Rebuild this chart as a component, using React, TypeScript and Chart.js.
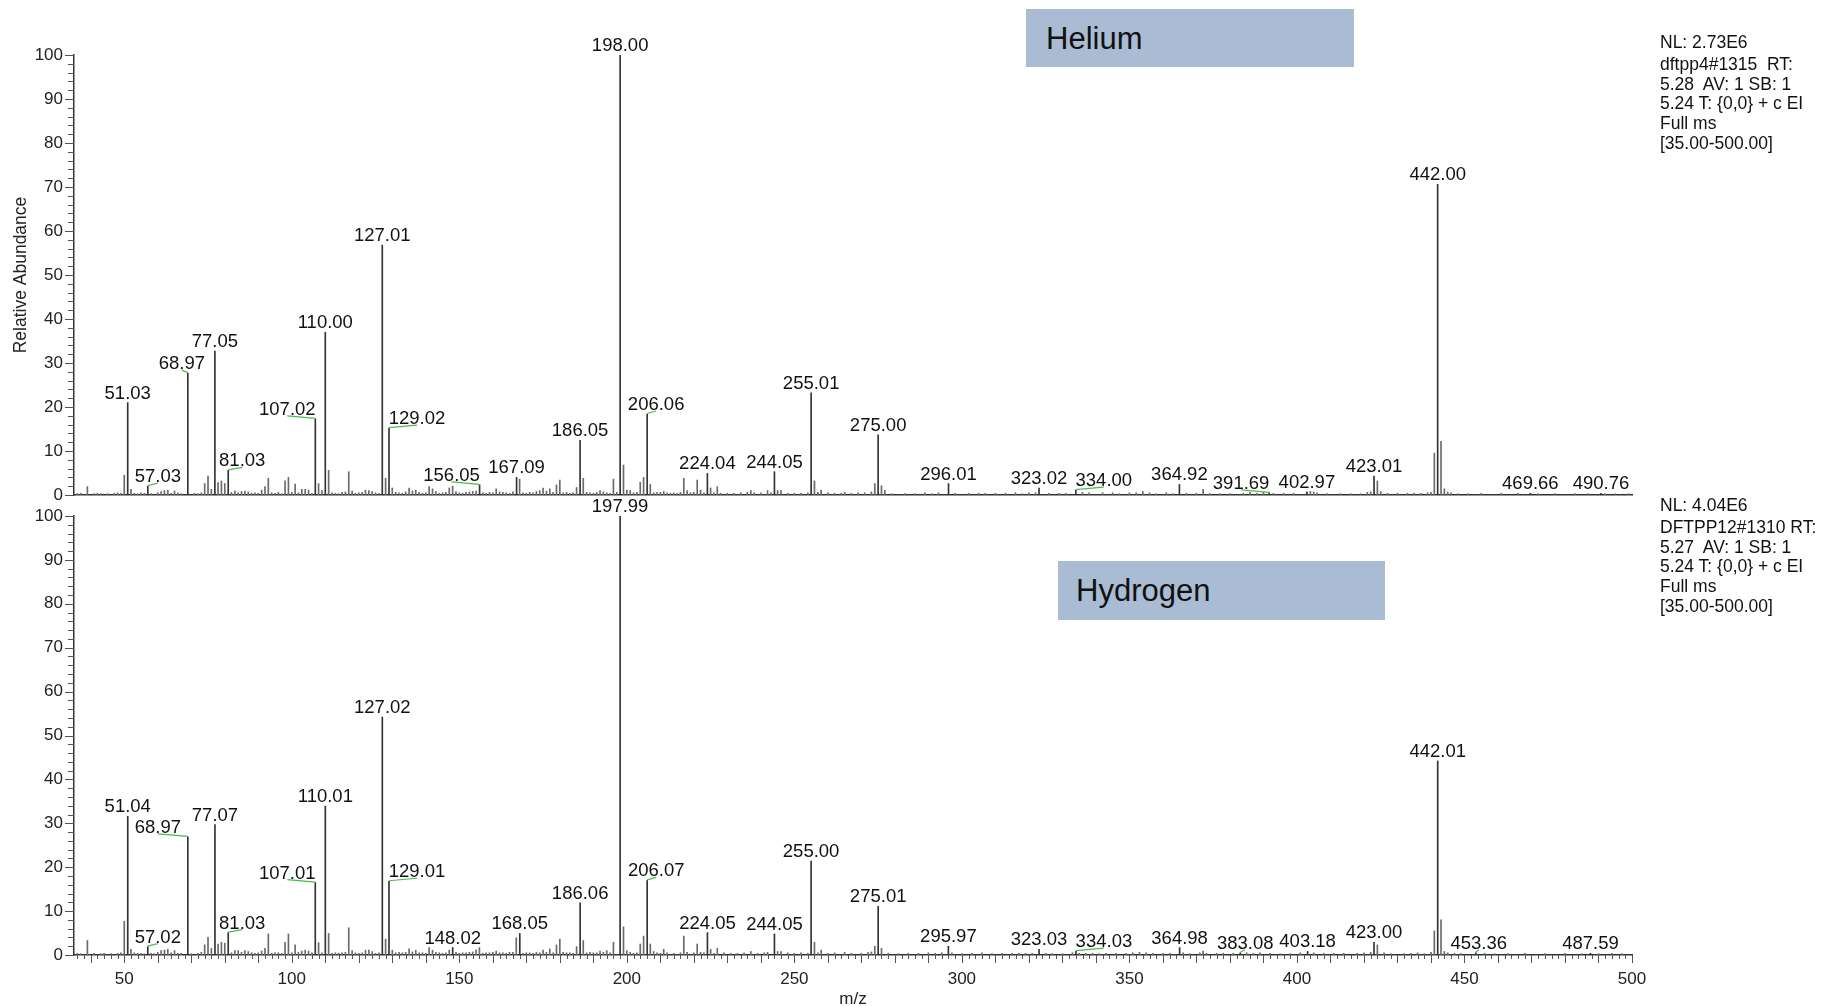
import React, { useEffect, useRef } from 'react';
import { Chart, registerables } from 'chart.js';

Chart.register(...registerables);

const FONT = '"Liberation Sans", Arial, Helvetica, sans-serif';

// ---------------- Helium spectrum (m/z, relative abundance) ----------------
const heliumPeaks: [number, number][] = [
  [39, 1.9], [50, 4.5], [51.03, 21.0], [52, 1.3], [57.03, 2.0],
  [61, 0.8], [62, 1.0], [63, 1.1], [65, 0.9], [68.97, 27.7],
  [74, 2.6], [75, 4.3], [76, 1.3], [77.05, 32.7], [78, 2.8], [79, 3.2], [80, 2.6], [81.03, 5.6],
  [83, 0.9], [85, 0.8], [86, 0.9], [87, 0.7], [91, 1.1], [92, 1.9], [93, 3.8],
  [98, 3.2], [99, 4.0], [101, 2.5], [103, 1.3], [104, 1.3], [105, 1.1],
  [107.02, 17.3], [108, 2.6], [109, 1.0], [110.0, 37.0], [111, 5.6], [117, 5.3], [118, 0.9],
  [122, 1.1], [123, 1.0], [124, 0.8], [127.01, 56.8], [128, 3.8], [129.02, 15.2], [130, 1.6],
  [135, 1.6], [136, 0.9], [137, 1.1], [141, 1.9], [142, 1.4], [143, 0.8],
  [147, 1.6], [148, 2.0], [149, 0.8], [153, 0.7], [154, 0.8], [155, 0.9], [156.05, 2.3],
  [161, 1.4], [162, 0.7], [167.09, 4.0], [168, 3.6],
  [173, 0.8], [174, 1.0], [175, 1.6], [176, 0.9], [177, 1.4], [179, 2.3], [180, 3.4],
  [185, 1.7], [186.05, 12.4], [187, 3.8], [192, 1.0], [193, 0.7],
  [196, 3.6], [198.0, 100], [199, 6.8], [200, 1.1], [201, 1.0],
  [204, 2.9], [205, 4.0], [206.06, 18.4], [207, 2.4], [209, 0.6], [211, 0.8],
  [217, 3.8], [218, 1.0], [221, 3.4], [222, 1.1], [224.04, 4.9], [225, 1.6], [227, 1.9],
  [237, 1.0], [242, 1.0], [244.05, 5.3], [245, 1.0], [246, 1.0],
  [255.01, 23.2], [256, 3.2], [258, 1.1], [265, 0.6],
  [274, 2.6], [275.0, 13.7], [276, 2.1], [277, 1.0],
  [296.01, 2.6], [323.02, 1.6], [334.0, 1.1], [354, 0.8], [364.92, 2.4], [372, 1.3],
  [391.69, 0.5], [402.97, 0.7], [404, 0.8], [423.01, 4.3], [424, 3.2], [425, 0.8],
  [441, 9.5], [442.0, 70.6], [443, 12.2], [444, 1.4], [469.66, 0.4], [490.76, 0.4],
];

const heliumNoise: [number, number][] = [
  [36, .3], [37, .4], [41, .3], [42, .4], [43, .3], [45, .3], [47, .4], [48, .5], [49, .4], [53, .4],
  [54, .3], [55, .5], [56, .4], [58, .3], [60, .5], [64, .4], [66, .5], [67, .3], [71, .4], [72, .3],
  [73, .5], [82, .6], [84, .5], [88, .4], [89, .5], [90, .4], [94, .5], [95, .4], [96, .6], [97, .3],
  [100, .6], [102, .5], [106, .4], [112, .5], [113, .4], [114, .3], [115, .6], [116, .7], [119, .4], [120, .5],
  [121, .6], [125, .5], [126, .4], [131, .6], [132, .5], [133, .4], [134, .7], [138, .6], [139, .4], [140, .5],
  [144, .4], [145, .5], [146, .6], [150, .5], [151, .4], [152, .6], [157, .5], [158, .4], [159, .6], [160, .5],
  [163, .6], [164, .5], [165, .4], [166, .7], [169, .5], [170, .4], [171, .6], [172, .5], [178, .6], [181, .5],
  [182, .6], [183, .4], [184, .5], [188, .6], [189, .5], [190, .4], [191, .6], [194, .5], [195, .4], [197, .6],
  [202, .5], [203, .6], [208, .5], [210, .6], [212, .5], [213, .4], [214, .5], [215, .4], [216, .6], [219, .5],
  [220, .6], [223, .5], [226, .5], [228, .4], [230, .4], [232, .4], [234, .5], [236, .6], [238, .5], [240, .5],
  [243, .5], [248, .4], [250, .4], [252, .4], [254, .5], [257, .6], [260, .5], [262, .4], [264, .4], [267, .4],
  [269, .5], [271, .5], [273, .7], [279, .3], [283, .3], [286, .3], [289, .5], [291, .3], [293, .5], [298, .4],
  [302, .4], [305, .4], [307, .4], [310, .4], [313, .4], [316, .5], [318, .3], [320, .5], [322, .5], [326, .4],
  [329, .4], [331, .4], [336, .6], [338, .5], [342, .5], [345, .5], [347, .3], [350, .5], [352, .5], [356, .5],
  [358, .3], [361, .5], [363, .3], [367, .4], [370, .4], [374, .3], [377, .3], [380, .3], [384, .4], [386, .6],
  [388, .4], [390, .6], [393, .4], [396, .4], [399, .4], [405, .7], [406, .5], [409, .3], [413, .3], [416, .3],
  [419, .3], [421, .6], [422, .7], [427, .4], [430, .4], [433, .4], [435, .4], [437, .4], [439, .5], [440, .6],
  [445, .7], [446, .5], [448, .3], [451, .3], [455, .4], [461, .4], [466, .4], [472, .3], [477, .3], [483, .3],
  [487, .3], [492, .3], [495, .3], [499, .3],
];

const heliumLabels: number[] = [
  51.03, 57.03, 68.97, 77.05, 81.03, 107.02, 110.0, 127.01, 129.02, 156.05, 167.09, 186.05, 198.0, 206.06,
  224.04, 244.05, 255.01, 275.0, 296.01, 323.02, 334.0, 364.92, 391.69, 402.97, 423.01, 442.0, 469.66, 490.76,
];

// ---------------- Hydrogen spectrum ----------------
const hydrogenPeaks: [number, number][] = [
  [39, 3.3], [50, 7.7], [51.04, 31.6], [52, 1.3], [57.02, 1.9],
  [61, 1.0], [62, 1.1], [63, 1.3], [65, 1.0], [68.97, 26.9],
  [74, 2.3], [75, 4.0], [76, 1.5], [77.07, 29.7], [78, 2.5], [79, 2.9], [80, 2.7], [81.03, 5.1],
  [83, 1.0], [84, 1.0], [86, 1.0], [87, 0.8], [91, 0.9], [92, 1.5], [93, 4.8],
  [98, 2.9], [99, 4.8], [101, 2.3], [103, 0.9], [104, 1.1], [105, 0.9],
  [107.01, 16.5], [108, 2.8], [109, 0.5], [110.01, 33.9], [111, 4.9], [117, 6.2], [118, 1.0],
  [122, 1.1], [123, 1.1], [124, 0.8], [127.02, 54.2], [128, 3.6], [129.01, 16.8], [130, 1.1],
  [135, 1.4], [137, 1.1], [141, 1.7], [142, 1.1], [147, 1.1], [148.02, 1.7], [155, 1.2], [156, 1.7],
  [161, 0.9], [167, 3.9], [168.05, 4.9], [175, 1.1], [177, 1.4], [179, 2.3], [180, 3.6],
  [185, 1.9], [186.06, 11.9], [187, 3.3], [192, 0.9], [194, 1.0],
  [196, 2.9], [197.99, 100], [199, 6.4], [200, 1.0],
  [204, 2.5], [205, 4.3], [206.07, 17.0], [207, 2.5], [208, 0.8], [211, 1.3],
  [217, 4.3], [221, 2.5], [224.05, 5.1], [225, 1.3], [227, 1.5],
  [237, 0.8], [244.05, 4.8], [245, 0.8], [246, 0.8], [255.0, 21.4], [256, 2.9], [258, 1.1],
  [274, 2.0], [275.01, 11.1], [276, 1.5],
  [295.97, 2.0], [323.03, 1.3], [334.03, 0.9], [364.98, 1.7], [372, 0.9], [383.08, 0.5], [403.18, 0.8],
  [423.0, 2.9], [424, 2.3], [441, 5.5], [442.01, 44.2], [443, 8.0], [444, 0.8], [453.36, 0.5], [487.59, 0.4],
];

const hydrogenNoise: [number, number][] = [
  [36, .4], [37, .3], [41, .4], [43, .3], [44, .4], [46, .3], [48, .4], [49, .5], [53, .5], [54, .4],
  [55, .4], [56, .3], [58, .4], [59, .3], [60, .6], [64, .5], [66, .4], [67, .4], [70, .3], [72, .4],
  [73, .6], [82, .5], [85, .6], [88, .5], [89, .4], [90, .5], [94, .4], [95, .5], [96, .5], [97, .4],
  [100, .5], [102, .6], [106, .5], [112, .4], [113, .5], [114, .4], [115, .5], [116, .6], [119, .5], [120, .4],
  [121, .5], [125, .4], [126, .5], [131, .5], [132, .6], [133, .5], [134, .6], [136, .7], [138, .5], [139, .5],
  [140, .4], [143, .6], [144, .5], [145, .4], [146, .5], [149, .6], [150, .4], [151, .5], [152, .5], [153, .6],
  [154, .7], [157, .4], [158, .5], [159, .5], [160, .6], [162, .5], [163, .5], [164, .4], [165, .6], [166, .6],
  [169, .4], [170, .5], [171, .5], [172, .4], [173, .6], [174, .5], [176, .6], [178, .5], [181, .6], [182, .5],
  [183, .5], [184, .4], [188, .5], [189, .6], [190, .5], [191, .5], [193, .6], [195, .5], [201, .6], [202, .4],
  [203, .5], [209, .5], [210, .4], [212, .5], [214, .4], [216, .5], [218, .6], [220, .5], [222, .6], [223, .5],
  [226, .4], [229, .5], [231, .4], [233, .4], [235, .5], [239, .4], [241, .5], [242, .6], [248, .5], [250, .4],
  [252, .5], [254, .4], [257, .5], [260, .4], [262, .5], [265, .6], [267, .4], [270, .4], [272, .6], [273, .7],
  [278, .4], [281, .3], [284, .4], [287, .4], [290, .5], [292, .4], [294, .5], [297, .5], [300, .3], [303, .4],
  [306, .5], [309, .3], [312, .4], [315, .4], [317, .4], [319, .4], [321, .4], [325, .4], [327, .3], [330, .3],
  [333, .5], [335, .4], [337, .4], [339, .4], [341, .3], [343, .4], [346, .4], [349, .4], [351, .5], [353, .6],
  [355, .5], [357, .4], [360, .4], [362, .4], [366, .5], [368, .3], [371, .5], [373, .4], [376, .4], [378, .4],
  [381, .4], [385, .5], [387, .4], [389, .5], [392, .4], [395, .3], [398, .3], [401, .5], [405, .5], [408, .4],
  [411, .4], [414, .4], [418, .4], [420, .5], [422, .6], [426, .5], [428, .3], [432, .3], [434, .4], [436, .5],
  [438, .3], [440, .6], [445, .5], [447, .4], [449, .3], [456, .4], [459, .3], [463, .3], [468, .4], [474, .3],
  [480, .4], [485, .3], [490, .3], [494, .4], [497, .3],
];

const hydrogenLabels: number[] = [
  51.04, 57.02, 68.97, 77.07, 81.03, 107.01, 110.01, 127.02, 129.01, 148.02, 168.05, 186.06, 197.99, 206.07,
  224.05, 244.05, 255.0, 275.01, 295.97, 323.03, 334.03, 364.98, 383.08, 403.18, 423.0, 442.01, 453.36, 487.59,
];

// axis tick labels
const xTickLabels = [50, 100, 150, 200, 250, 300, 350, 400, 450, 500];
const yTickLabels = [0, 10, 20, 30, 40, 50, 60, 70, 80, 90, 100];

const heliumInfo = ['NL: 2.73E6', 'dftpp4#1315  RT:', '5.28  AV: 1 SB: 1', '5.24 T: {0,0} + c EI', 'Full ms', '[35.00-500.00]'];
const hydrogenInfo = ['NL: 4.04E6', 'DFTPP12#1310 RT:', '5.27  AV: 1 SB: 1', '5.24 T: {0,0} + c EI', 'Full ms', '[35.00-500.00]'];

// label placement styling (pixel shift of the label from its peak)
const heliumLabelShift: Record<string, number> = {
  '57.03': 10, '68.97': -6, '81.03': 14, '107.02': -28, '129.02': 28, '156.05': -28, '206.06': 9, '334.00': 28, '391.69': -28,
};
const hydrogenLabelShift: Record<string, number> = {
  '57.02': 10, '68.97': -30, '81.03': 14, '107.01': -28, '129.01': 28, '206.07': 9, '334.03': 28, '383.08': 5, '453.36': 3,
};

type Panel = {
  peaks: [number, number][];
  noise: [number, number][];
  labels: number[];
  shift: Record<string, number>;
  bottomAxis: boolean;
  yTitle: boolean;
  padTop: number;
  padBottom: number;
  xAxisHeight: number;
};

function buildChart(canvas: HTMLCanvasElement, p: Panel) {
  const labelKeys = new Set(p.labels.map((v) => v.toFixed(2)));
  const major: { x: number; y: number }[] = [];
  const minor: { x: number; y: number }[] = [];
  p.peaks.forEach(([m, a]) => {
    (labelKeys.has(m.toFixed(2)) ? major : minor).push({ x: m, y: a });
  });
  p.noise.forEach(([m, a]) => minor.push({ x: m, y: a }));
  minor.sort((a, b) => a.x - b.x);

  const tickPlugin = {
    id: 'msTicks',
    afterDraw(chart: any) {
      const ctx = chart.ctx;
      const { left, bottom } = chart.chartArea;
      const ys = chart.scales.y;
      const xs = chart.scales.x;
      ctx.save();
      ctx.strokeStyle = '#555';
      ctx.lineWidth = 1;
      ctx.beginPath();
      for (let v = 0; v <= 100; v += 2) {
        const y = Math.round(ys.getPixelForValue(v)) + 0.5;
        const len = v % 10 === 0 ? 9 : 6;
        ctx.moveTo(left - len, y);
        ctx.lineTo(left, y);
      }
      if (p.bottomAxis) {
        for (let v = 36; v <= 500; v += 2) {
          const x = Math.round(xs.getPixelForValue(v)) + 0.5;
          const len = v % 10 === 0 ? 8 : 4;
          ctx.moveTo(x, bottom);
          ctx.lineTo(x, bottom + len);
        }
      }
      ctx.stroke();
      ctx.restore();
    },
    afterDatasetsDraw(chart: any) {
      const ctx = chart.ctx;
      const ys = chart.scales.y;
      const xs = chart.scales.x;
      ctx.save();
      ctx.font = `18.5px ${FONT}`;
      ctx.textAlign = 'center';
      ctx.textBaseline = 'alphabetic';
      p.labels.forEach((m) => {
        const pk = p.peaks.find(([mz]) => Math.abs(mz - m) < 1e-6);
        if (!pk) return;
        const x = xs.getPixelForValue(m);
        const y = ys.getPixelForValue(pk[1]);
        const key = m.toFixed(2);
        const sh = p.shift[key] || 0;
        const lx = x + sh;
        if (sh) {
          ctx.strokeStyle = '#4cbb4c';
          ctx.lineWidth = 1.2;
          ctx.beginPath();
          ctx.moveTo(x, y - 0.5);
          ctx.lineTo(lx, y - 3);
          ctx.stroke();
        }
        ctx.fillStyle = '#111';
        ctx.fillText(key, lx, y - 4);
      });
      ctx.restore();
    },
  };

  return new Chart(canvas, {
    type: 'bar',
    data: {
      datasets: [
        { data: minor, backgroundColor: '#6a6a6a', barThickness: 1, grouped: false, borderWidth: 0 } as any,
        { data: major, backgroundColor: '#333333', barThickness: 1, grouped: false, borderWidth: 0 } as any,
      ],
    },
    options: {
      animation: false,
      responsive: false,
      maintainAspectRatio: false,
      devicePixelRatio: 1,
      layout: { autoPadding: false, padding: { left: 0, right: 194, top: p.padTop, bottom: p.padBottom } },
      plugins: { legend: { display: false }, tooltip: { enabled: false }, title: { display: false } },
      scales: {
        x: {
          type: 'linear',
          min: 35,
          max: 500,
          offset: false,
          grid: { display: false, drawTicks: false },
          border: { display: true, color: '#333', width: 1.5 },
          ticks: {
            display: p.bottomAxis,
            font: { family: FONT, size: 17 },
            color: '#222',
            padding: 14,
            maxRotation: 0,
            autoSkip: false,
          },
          afterBuildTicks: (s: any) => {
            s.ticks = xTickLabels.map((v) => ({ value: v }));
          },
          title: {
            display: p.bottomAxis,
            text: 'm/z',
            font: { family: FONT, size: 17 },
            color: '#222',
            padding: { top: 0, bottom: 0 },
          },
          afterFit: (s: any) => {
            s.height = p.xAxisHeight;
          },
        },
        y: {
          min: 0,
          max: 100,
          grid: { display: false, drawTicks: false },
          border: { display: true, color: '#333', width: 1.5 },
          ticks: { font: { family: FONT, size: 17 }, color: '#222', padding: 11, autoSkip: false },
          afterBuildTicks: (s: any) => {
            s.ticks = yTickLabels.map((v) => ({ value: v }));
          },
          title: {
            display: p.yTitle,
            text: 'Relative Abundance',
            font: { family: FONT, size: 17.5 },
            color: '#222',
            padding: { top: 11, bottom: 0 },
          },
          afterFit: (s: any) => {
            s.width = 74;
          },
        },
      },
    } as any,
    plugins: [tickPlugin],
  });
}

function InfoBlock({ lines, top, firstGap }: { lines: string[]; top: number; firstGap: number }) {
  return (
    <div style={{ position: 'absolute', left: 1660, top, fontFamily: FONT, fontSize: 17.5, color: '#111', whiteSpace: 'pre', lineHeight: '19.8px' }}>
      {lines.map((l, i) => (
        <div key={i} style={{ marginBottom: i === 0 ? firstGap : 0 }}>{l}</div>
      ))}
    </div>
  );
}

export default function App() {
  const topRef = useRef<HTMLCanvasElement>(null);
  const bottomRef = useRef<HTMLCanvasElement>(null);

  useEffect(() => {
    const c1 = buildChart(topRef.current!, {
      peaks: heliumPeaks,
      noise: heliumNoise,
      labels: heliumLabels,
      shift: heliumLabelShift,
      bottomAxis: false,
      yTitle: true,
      padTop: 55,
      padBottom: 25,
      xAxisHeight: 0,
    });
    const c2 = buildChart(bottomRef.current!, {
      peaks: hydrogenPeaks,
      noise: hydrogenNoise,
      labels: hydrogenLabels,
      shift: hydrogenLabelShift,
      bottomAxis: true,
      yTitle: false,
      padTop: 36,
      padBottom: 0,
      xAxisHeight: 55,
    });
    return () => {
      c1.destroy();
      c2.destroy();
    };
  }, []);

  const boxStyle = {
    position: 'absolute' as const,
    background: '#aabcd3',
    fontFamily: FONT,
    fontSize: 31,
    color: '#111',
    boxSizing: 'border-box' as const,
  };

  return (
    <div style={{ position: 'fixed', left: 0, top: 0, width: 1826, height: 1006, background: '#fff', overflow: 'hidden' }}>
      <canvas ref={topRef} width={1826} height={520} style={{ position: 'absolute', left: 0, top: 0 }} />
      <canvas ref={bottomRef} width={1826} height={530} style={{ position: 'absolute', left: 0, top: 480 }} />
      <div style={{ ...boxStyle, left: 1026, top: 9, width: 328, height: 58, paddingLeft: 20, lineHeight: '60px' }}>Helium</div>
      <div style={{ ...boxStyle, left: 1058, top: 561, width: 327, height: 59, paddingLeft: 18, lineHeight: '60px' }}>Hydrogen</div>
      <InfoBlock lines={heliumInfo} top={33} firstGap={2} />
      <InfoBlock lines={hydrogenInfo} top={496} firstGap={2} />
    </div>
  );
}
